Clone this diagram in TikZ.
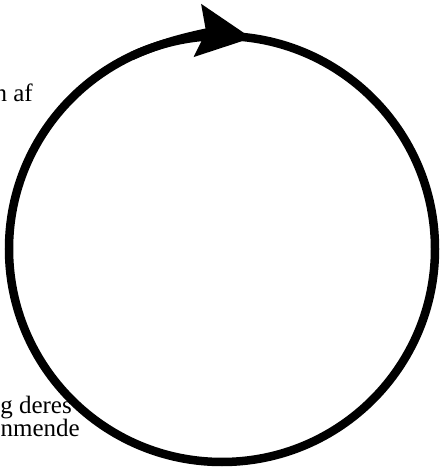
\documentclass[tikz,border=0pt]{standalone}
\usepackage{fontspec}
\setmainfont{Liberation Serif}
\usepackage{tikz}
\usetikzlibrary{
  arrows.meta,
  positioning,
  calc
}
\definecolor{CyInk}{HTML}{000000}
\tikzset{
  cyring/.style={
    line width=8.5pt,
    draw=CyInk
  },
  cyarrow/.style={
    cyring,
    -{Stealth[length=54pt,width=52pt,inset=8pt]}
  },
  cytext/.style={
    font=\fontsize{25}{26}\selectfont,
    text=CyInk,
    inner sep=0pt,
    anchor=base east
  }
}

\begin{document}
\begin{tikzpicture}[x=1pt,y=1pt]
  \useasboundingbox (0,0) rectangle (442,469);

  \coordinate (hub) at (222,220);
  \draw[cyring] (hub) circle (213pt);
  \draw[cyarrow] ($(hub)+(115:213pt)$) arc (115:82:213pt);

  \node[cytext] (upper) at (33,367) {n af};
  \node[cytext] (lowerA) at (72,56) {g deres};
  \node[cytext] (lowerB) at (80,32) {nmende};
\end{tikzpicture}
\end{document}
